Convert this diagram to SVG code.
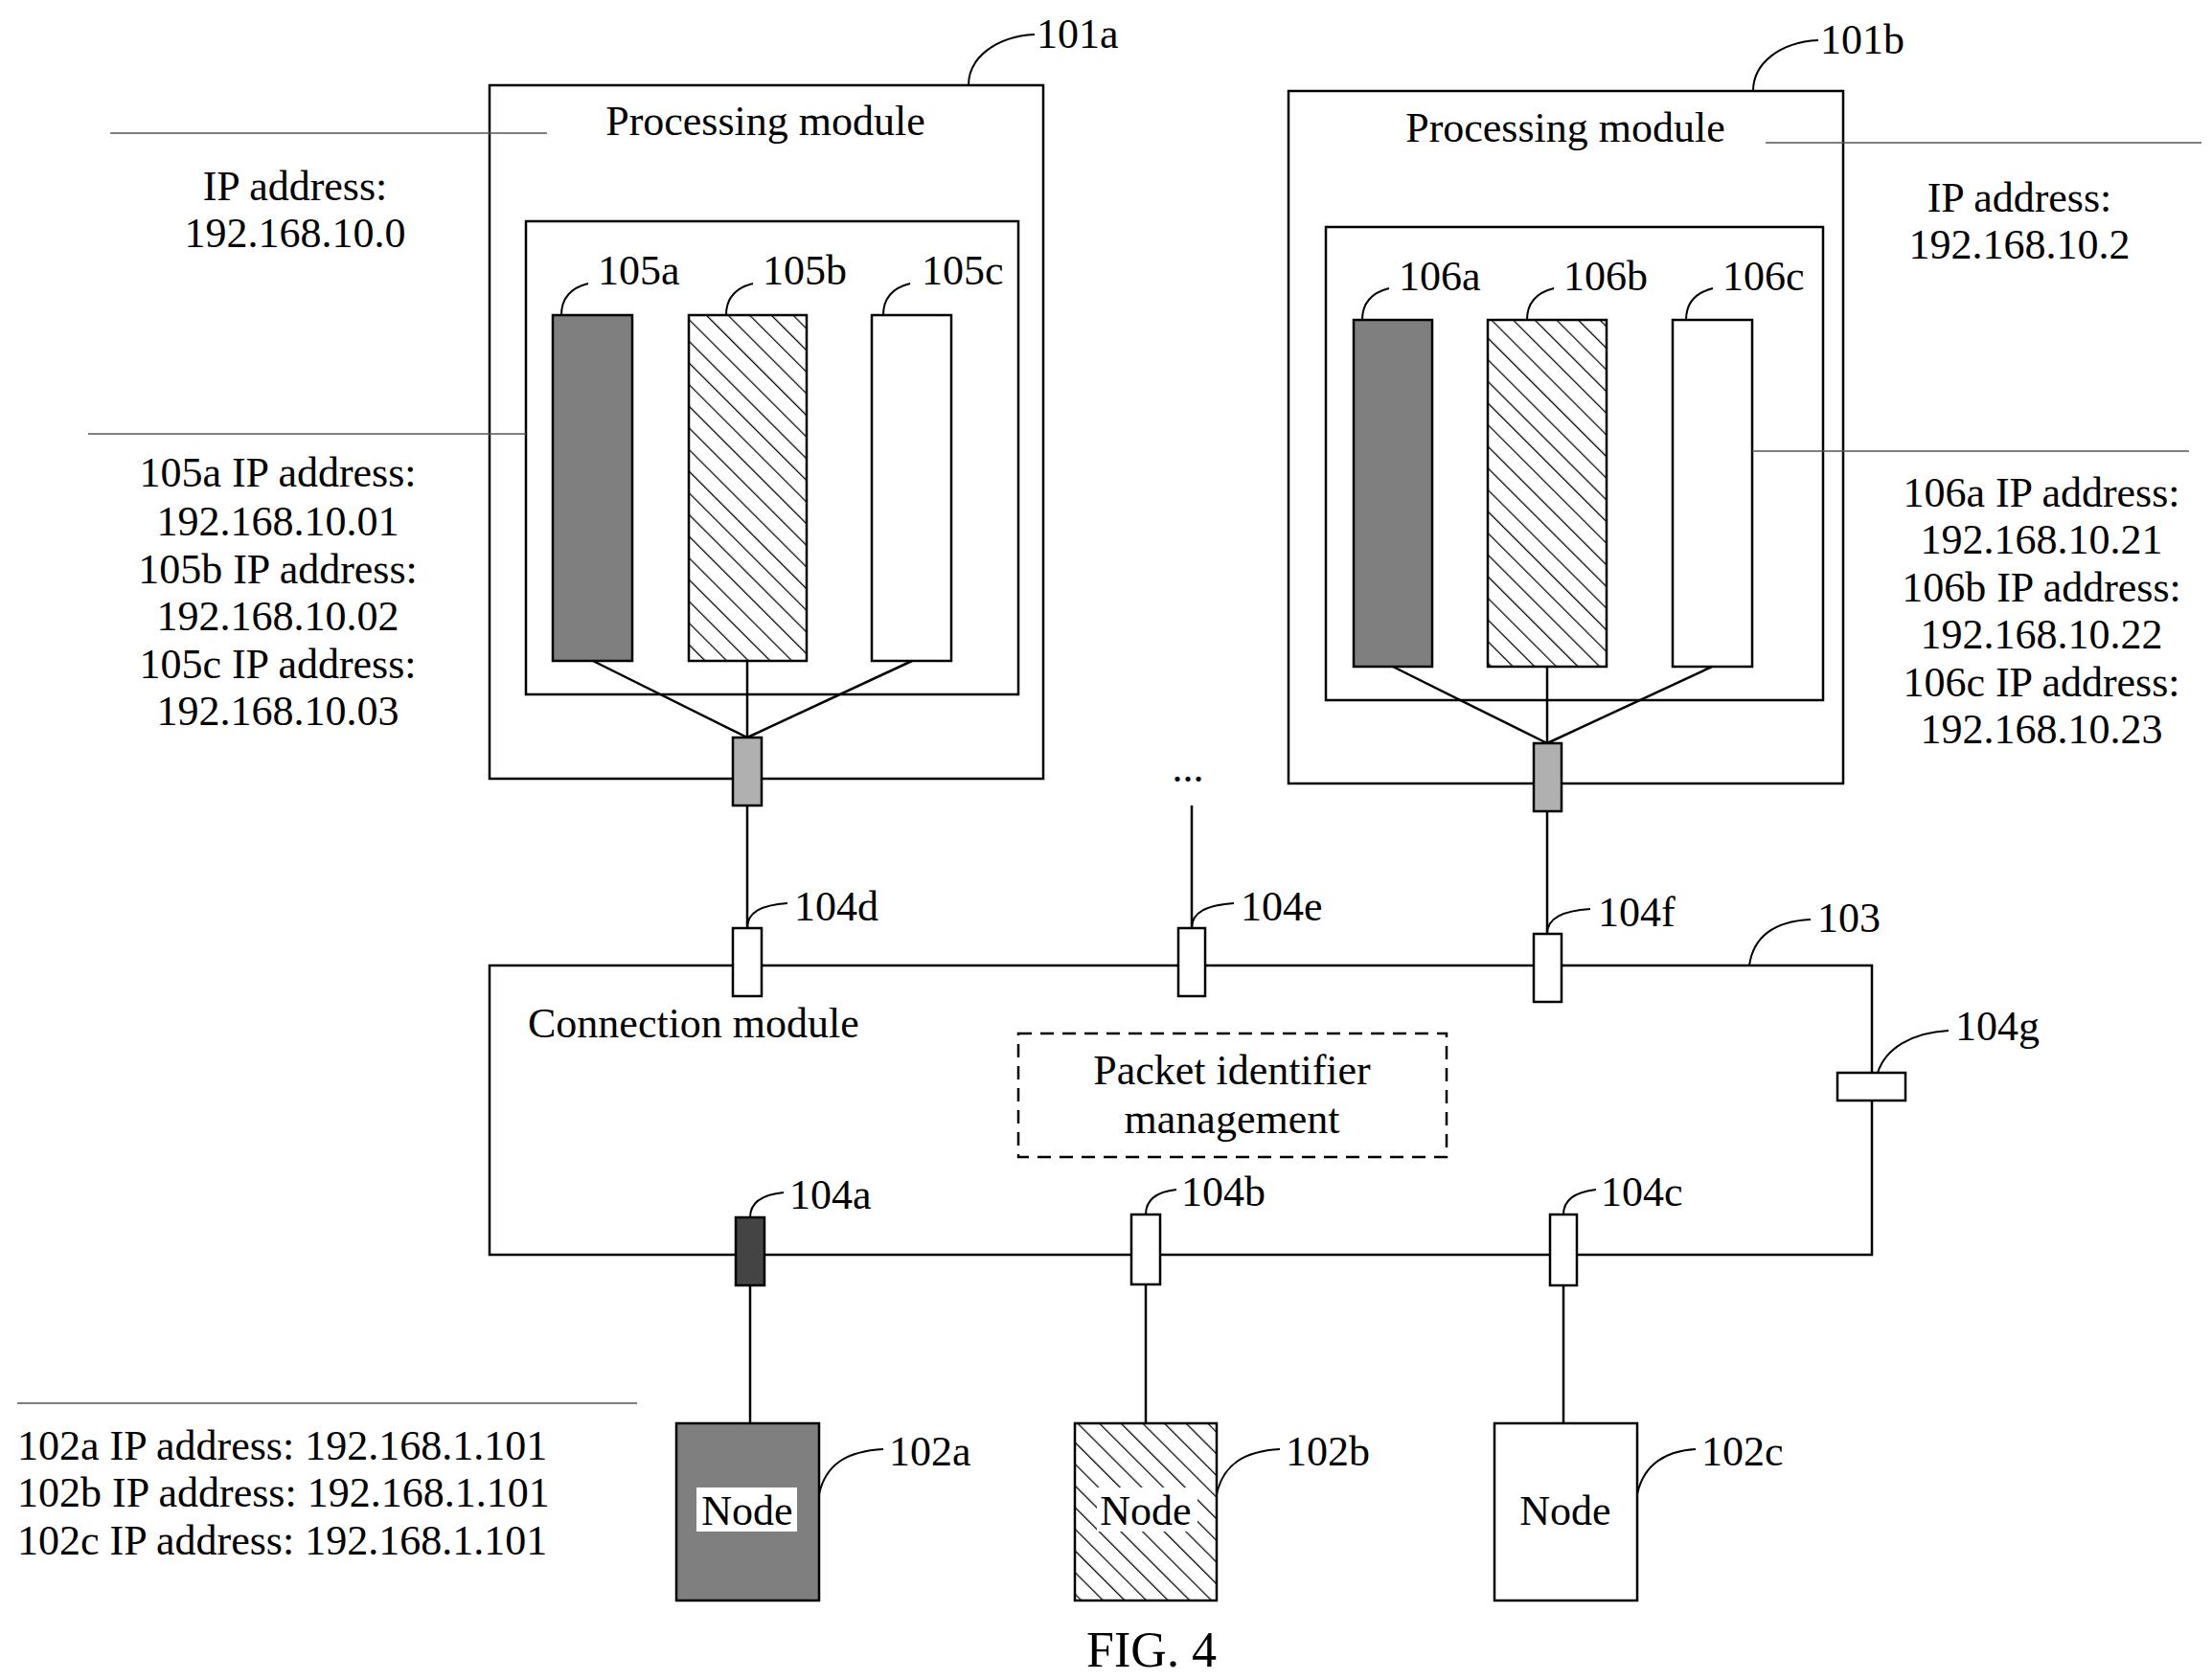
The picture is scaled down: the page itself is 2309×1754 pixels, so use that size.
<svg xmlns="http://www.w3.org/2000/svg" width="2309" height="1754" viewBox="0 0 2309 1754">
<style>
text{font-family:"Liberation Serif","Times New Roman",serif;font-size:44px;fill:#000}
.m{text-anchor:middle}
.b{fill:#fff;stroke:#000;stroke-width:2.5}
.g{fill:#7f7f7f;stroke:#000;stroke-width:2.5}
.h{fill:url(#hatch);stroke:#000;stroke-width:2.5}
.ln{fill:none;stroke:#000;stroke-width:2.5}
.tl{fill:none;stroke:#555;stroke-width:1.5}
.ld{fill:none;stroke:#000;stroke-width:2}
</style>
<defs>
<pattern id="hatch" patternUnits="userSpaceOnUse" width="16" height="16" patternTransform="rotate(-45)">
<rect width="16" height="16" fill="#fff"/>
<line x1="0" y1="0" x2="0" y2="16" stroke="#000" stroke-width="2.5"/>
</pattern>
</defs>
<rect width="2309" height="1754" fill="#fff"/>
<g id="pm101a">
<rect class="b" x="511" y="89" width="578" height="724"/>
<text class="m" x="799" y="141">Processing module</text>
<path class="ld" d="M1011 89 C1011 60 1040 38 1080 36"/>
<text x="1082" y="50">101a</text>
<rect class="b" x="549" y="231" width="514" height="494"/>
<rect class="g" x="577" y="329" width="83" height="361"/>
<rect class="h" x="719" y="329" width="123" height="361"/>
<rect class="b" x="910" y="329" width="83" height="361"/>
<path class="ld" d="M586 329 C586 310 598 300 614 296"/>
<text x="624" y="297">105a</text>
<path class="ld" d="M758 329 C758 310 770 300 786 296"/>
<text x="796" y="297">105b</text>
<path class="ld" d="M922 329 C922 310 934 300 950 296"/>
<text x="962" y="297">105c</text>
</g>
<g id="pm101b">
<rect class="b" x="1345" y="95" width="579" height="723"/>
<text class="m" x="1634" y="148">Processing module</text>
<path class="ld" d="M1830 95 C1830 66 1858 44 1898 42"/>
<text x="1900" y="56">101b</text>
<rect class="b" x="1384" y="237" width="519" height="494"/>
<rect class="g" x="1413" y="334" width="82" height="362"/>
<rect class="h" x="1553" y="334" width="124" height="362"/>
<rect class="b" x="1746" y="334" width="83" height="362"/>
<path class="ld" d="M1422 334 C1422 315 1434 305 1450 301"/>
<text x="1460" y="303">106a</text>
<path class="ld" d="M1594 334 C1594 315 1606 305 1622 301"/>
<text x="1632" y="303">106b</text>
<path class="ld" d="M1760 334 C1760 315 1772 305 1788 301"/>
<text x="1798" y="303">106c</text>
</g>
<g id="ip-texts">
<text class="m" x="308" y="209">IP address:</text>
<text class="m" x="308" y="258">192.168.10.0</text>
<text class="m" x="290" y="508">105a IP address:</text>
<text class="m" x="290" y="559">192.168.10.01</text>
<text class="m" x="290" y="609">105b IP address:</text>
<text class="m" x="290" y="658">192.168.10.02</text>
<text class="m" x="290" y="708">105c IP address:</text>
<text class="m" x="290" y="757">192.168.10.03</text>
<text class="m" x="2108" y="221">IP address:</text>
<text class="m" x="2108" y="270">192.168.10.2</text>
<text class="m" x="2131" y="529">106a IP address:</text>
<text class="m" x="2131" y="578">192.168.10.21</text>
<text class="m" x="2131" y="628">106b IP address:</text>
<text class="m" x="2131" y="677">192.168.10.22</text>
<text class="m" x="2131" y="727">106c IP address:</text>
<text class="m" x="2131" y="776">192.168.10.23</text>
<text x="18" y="1524">102a IP address: 192.168.1.101</text>
<text x="18" y="1573">102b IP address: 192.168.1.101</text>
<text x="18" y="1623">102c IP address: 192.168.1.101</text>
<text class="m" x="1240" y="816">...</text>
</g>
<g id="cm103">
<rect class="b" x="511" y="1008" width="1443" height="302"/>
<text x="551" y="1083">Connection module</text>
<path class="ld" d="M1826 1008 C1830 980 1850 962 1890 960"/>
<text x="1897" y="973">103</text>
</g>
<g id="pim">
<rect x="1063" y="1079" width="447" height="129" fill="none" stroke="#000" stroke-width="2.5" stroke-dasharray="14,9"/>
<text class="m" x="1286" y="1132">Packet identifier</text>
<text class="m" x="1286" y="1183">management</text>
</g>
<g id="connectors">
<line class="ln" x1="619" y1="690" x2="780" y2="770"/>
<line class="ln" x1="780" y1="690" x2="780" y2="770"/>
<line class="ln" x1="952" y1="690" x2="780" y2="770"/>
<line class="ln" x1="780" y1="841" x2="780" y2="969"/>
<line class="ln" x1="1454" y1="696" x2="1615" y2="776"/>
<line class="ln" x1="1615" y1="696" x2="1615" y2="776"/>
<line class="ln" x1="1787" y1="696" x2="1615" y2="776"/>
<line class="ln" x1="1615" y1="847" x2="1615" y2="975"/>
<line class="ln" x1="1244" y1="841" x2="1244" y2="969"/>
<line class="ln" x1="783" y1="1342" x2="783" y2="1486"/>
<line class="ln" x1="1196" y1="1341" x2="1196" y2="1486"/>
<line class="ln" x1="1632" y1="1342" x2="1632" y2="1486"/>
<line class="tl" x1="115" y1="139" x2="571" y2="139"/>
<line class="tl" x1="92" y1="453" x2="549" y2="453"/>
<line class="tl" x1="1843" y1="149" x2="2298" y2="149"/>
<line class="tl" x1="1829" y1="471" x2="2285" y2="471"/>
<line class="tl" x1="18" y1="1465" x2="665" y2="1465"/>
</g>
<g id="ports">
<rect x="765" y="770" width="30" height="71" fill="#b0b0b0" stroke="#000" stroke-width="2.5"/>
<rect x="1601" y="776" width="29" height="71" fill="#b0b0b0" stroke="#000" stroke-width="2.5"/>
<rect class="b" x="765" y="969" width="30" height="71"/>
<path class="ld" d="M780 969 C780 952 795 945 822 943"/><text x="829" y="961">104d</text>
<rect class="b" x="1230" y="969" width="28" height="71"/>
<path class="ld" d="M1244 969 C1244 952 1260 945 1288 943"/><text x="1295" y="961">104e</text>
<rect class="b" x="1601" y="975" width="29" height="71"/>
<path class="ld" d="M1615 975 C1615 958 1632 951 1660 949"/><text x="1668" y="967">104f</text>
<rect class="b" x="1918" y="1120" width="71" height="29"/>
<path class="ld" d="M1960 1120 C1968 1095 1995 1078 2034 1076"/><text x="2041" y="1086">104g</text>
<rect x="768" y="1271" width="30" height="71" fill="#444" stroke="#000" stroke-width="2.5"/>
<path class="ld" d="M783 1271 C783 1254 798 1247 818 1245"/><text x="824" y="1262">104a</text>
<rect class="b" x="1181" y="1268" width="30" height="73"/>
<path class="ld" d="M1196 1268 C1196 1251 1210 1244 1228 1242"/><text x="1233" y="1259">104b</text>
<rect class="b" x="1618" y="1268" width="28" height="74"/>
<path class="ld" d="M1632 1268 C1632 1251 1648 1244 1666 1242"/><text x="1671" y="1259">104c</text>
</g>
<g id="node102a">
<rect class="g" x="706" y="1486" width="149" height="185"/>
<rect x="727" y="1553" width="105" height="46" fill="#fff"/>
<text class="m" x="780" y="1592">Node</text>
<path class="ld" d="M855 1560 C862 1528 885 1515 922 1513"/><text x="928" y="1530">102a</text>
</g>
<g id="node102b">
<rect class="h" x="1122" y="1486" width="148" height="185"/>
<rect x="1145" y="1553" width="105" height="46" fill="#fff"/>
<text class="m" x="1196" y="1592">Node</text>
<path class="ld" d="M1270 1560 C1277 1528 1300 1515 1336 1513"/><text x="1342" y="1530">102b</text>
</g>
<g id="node102c">
<rect class="b" x="1560" y="1486" width="149" height="185"/>
<text class="m" x="1634" y="1592">Node</text>
<path class="ld" d="M1709 1560 C1716 1528 1739 1515 1770 1513"/><text x="1776" y="1530">102c</text>
</g>
<text class="m" x="1202" y="1740" style="font-size:52px">FIG. 4</text>
</svg>
